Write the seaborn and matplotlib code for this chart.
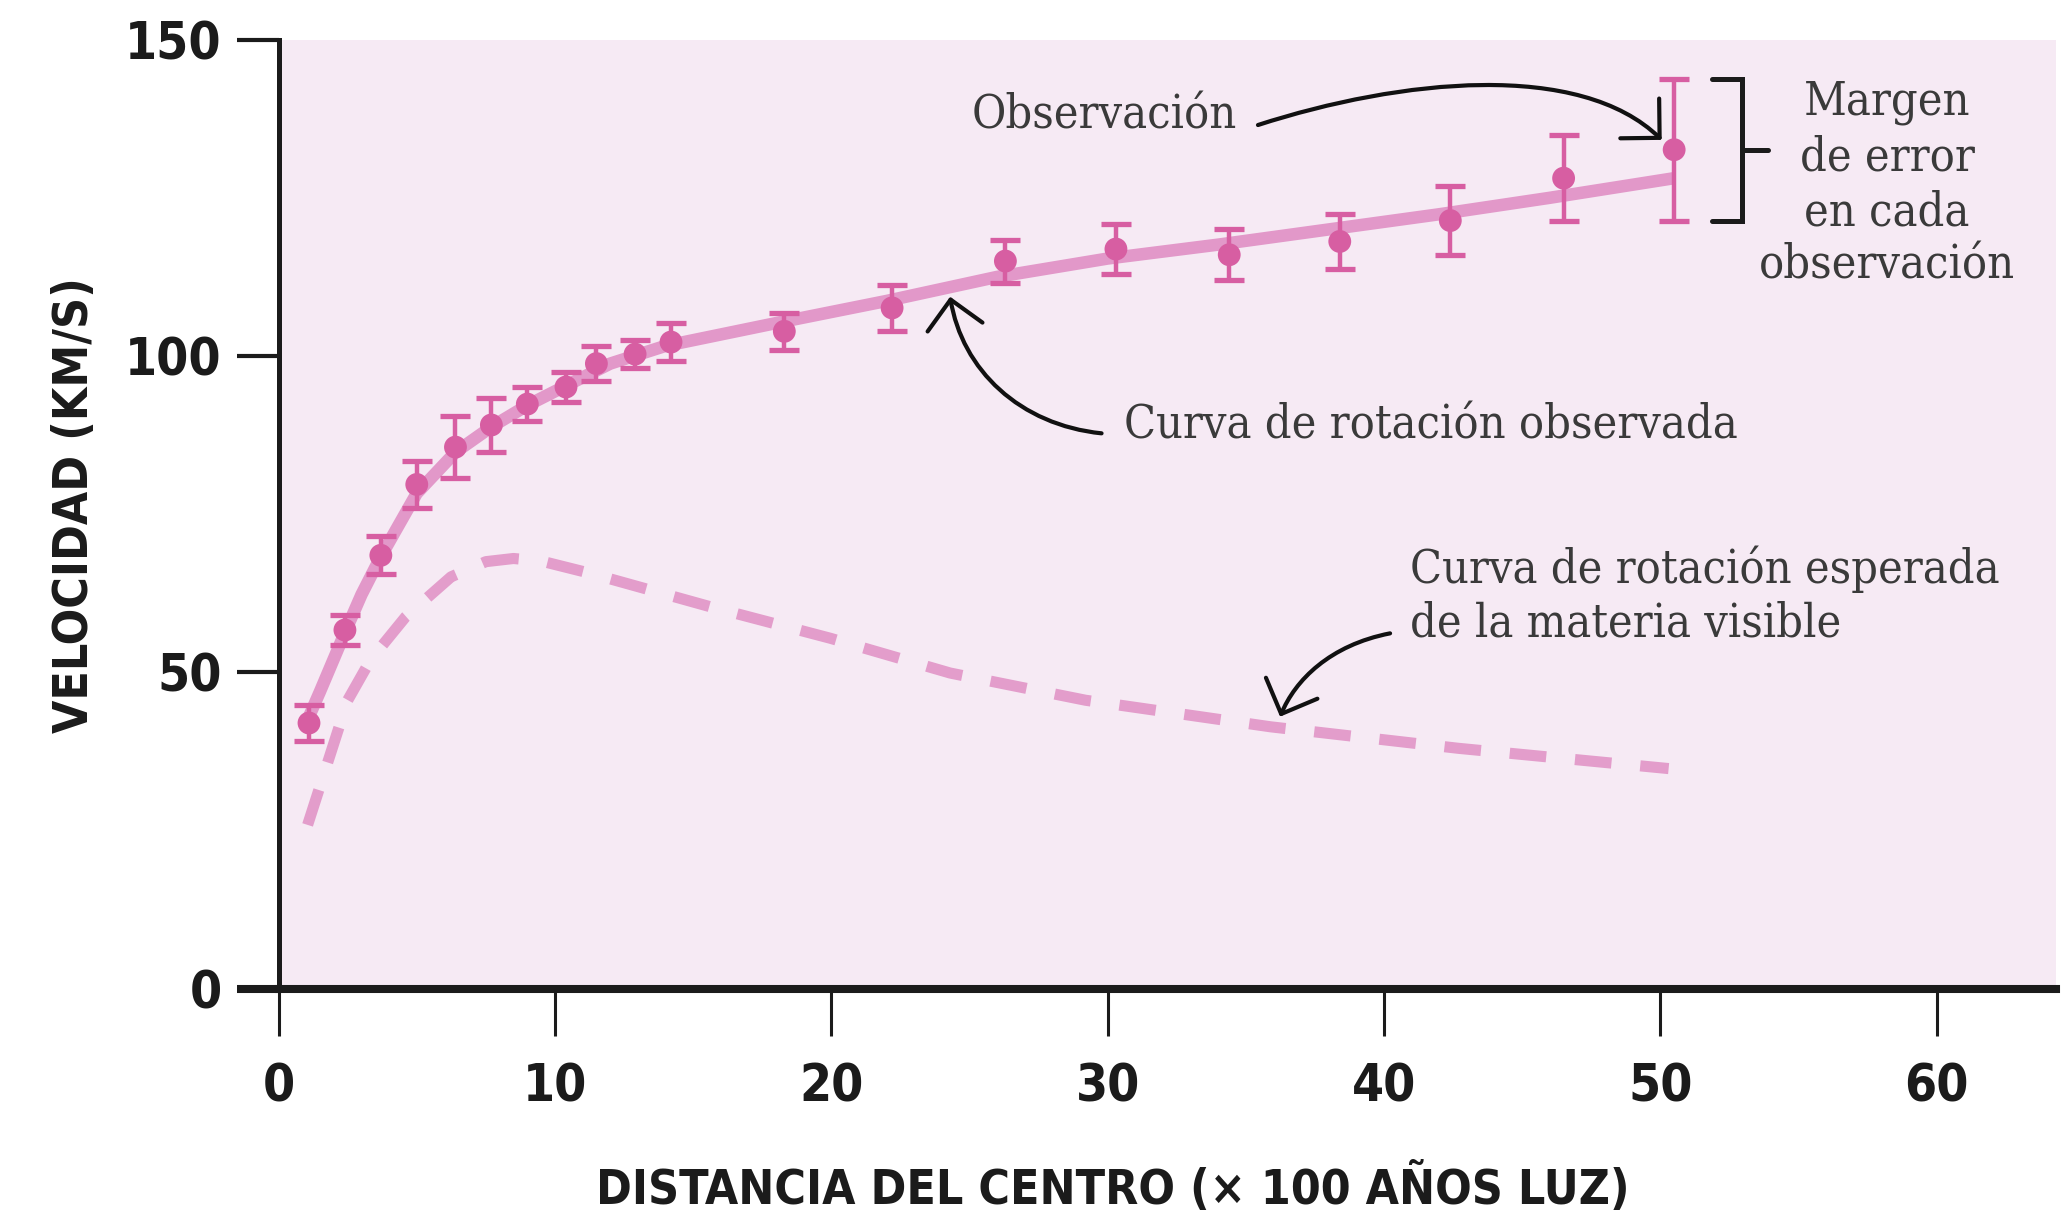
import matplotlib
matplotlib.use("Agg")
import matplotlib.pyplot as plt
import seaborn as sns
from matplotlib.patches import FancyArrowPatch, ArrowStyle
from matplotlib.path import Path

# Observed rotation velocities (distance in units of 100 light years, km/s)
obs_dist = [1.1, 2.4, 3.7, 5.0, 6.4, 7.7, 9.0, 10.4, 11.5, 12.9, 14.2,
            18.3, 22.2, 26.3, 30.3, 34.4, 38.4, 42.4, 46.5, 50.5]
obs_vel = [42.0, 56.7, 68.5, 79.7, 85.6, 89.1, 92.4, 95.1, 98.8, 100.3, 102.2,
           103.9, 107.6, 115.0, 116.9, 116.0, 118.1, 121.4, 128.1, 132.6]
obs_err = [2.8, 2.3, 3.0, 3.7, 4.9, 4.2, 2.7, 2.3, 2.8, 2.2, 3.0,
           2.9, 3.6, 3.4, 3.9, 4.0, 4.4, 5.5, 6.8, 11.2]

# Fitted (observed) rotation curve
fit_dist = [1.0, 1.5, 2.4, 3.0, 3.7, 5.0, 6.4, 7.7, 9.0, 10.4, 12.0, 14.0,
            18.0, 22.0, 26.0, 30.0, 34.0, 38.0, 42.0, 46.0, 50.5]
fit_vel = [42.0, 47.0, 56.3, 62.3, 68.3, 78.3, 84.8, 88.8, 92.2, 95.3, 98.8, 101.6,
           105.2, 108.7, 112.5, 115.4, 117.6, 120.0, 122.4, 125.0, 128.1]

# Expected rotation curve from visible matter
exp_dist = [1.05, 1.55, 2.5, 3.33, 4.6, 6.24, 7.5, 8.5, 9.5, 11.24,
            15.6, 19.96, 24.3, 29.2, 35.9, 42.7, 50.3]
exp_vel = [25.9, 32.7, 45.6, 52.0, 58.8, 65.1, 67.5, 68.0, 67.6, 65.7,
           60.4, 55.4, 49.9, 45.6, 41.4, 38.0, 34.8]

x_ticks = [0, 10, 20, 30, 40, 50, 60]
y_ticks = [0, 50, 100, 150]

BG = "#f6eaf4"
POINT = "#d75ea2"
FIT = "#e298c9"
EXPECTED = "#e39dcb"
INK = "#1b1b1b"
NOTE = "#3a3a3a"

sns.set_theme(style="ticks")
plt.rcParams["font.family"] = ["DejaVu Sans"]

fig = plt.figure(figsize=(20.7, 12.12), dpi=100)
ax = fig.add_axes([0.13459, 0.18416, 0.85841, 0.78317])
ax.set_facecolor(BG)

sns.lineplot(x=fit_dist, y=fit_vel, ax=ax, color=FIT, linewidth=9,
             solid_capstyle="butt", zorder=2)
sns.lineplot(x=exp_dist, y=exp_vel, ax=ax, color=EXPECTED, linewidth=8,
             linestyle=(0, (3.3, 2.6)), zorder=2)
ax.errorbar(obs_dist, obs_vel, yerr=obs_err, fmt="none", ecolor=POINT,
            elinewidth=3.2, capsize=10.5, capthick=3.8, zorder=3)
sns.scatterplot(x=obs_dist, y=obs_vel, ax=ax, color=POINT, s=270,
                edgecolor="none", linewidth=0, zorder=4)

ax.set_xlim(0, 64.3)
ax.set_ylim(0, 150)
ax.set_xticks(x_ticks)
ax.set_yticks(y_ticks)

for side in ("top", "right"):
    ax.spines[side].set_visible(False)
ax.spines["left"].set_linewidth(3.6)
ax.spines["left"].set_color(INK)
ax.spines["bottom"].set_linewidth(5.8)
ax.spines["bottom"].set_color(INK)

tick_font = dict(family=["DejaVu Sans"], stretch="condensed",
                 weight="bold", size=37)
label_font = dict(family=["DejaVu Sans"], stretch="condensed",
                  weight="bold", size=34.5)
ax.tick_params(axis="y", length=30, width=3, color=INK, pad=11)
ax.tick_params(axis="x", length=34, width=2.2, color=INK, pad=19)
ax.set_xticklabels([str(t) for t in x_ticks], color=INK, **tick_font)
ax.set_yticklabels([str(t) for t in y_ticks], color=INK, **tick_font)
ax.yaxis.get_major_ticks()[0].tick1line.set_markeredgewidth(5.8)

ax.set_xlabel("DISTANCIA DEL CENTRO (× 100 AÑOS LUZ)", color=INK, **label_font)
ax.xaxis.label.set_va("baseline")
ax.xaxis.set_label_coords(0.4696, -0.2267)
ax.set_ylabel("VELOCIDAD (KM/S)", color=INK, **label_font)
ax.yaxis.label.set_va("baseline")
ax.yaxis.set_label_coords(-0.107, 0.51)

note_font = dict(family=["DejaVu Serif"], fontstretch="condensed",
                 fontsize=33.5, color=NOTE)

ax.text(34.68, 136.0, "Observación", ha="right", va="baseline", **note_font)
ax.text(30.6, 86.9, "Curva de rotación observada", ha="left", va="baseline",
        **note_font)
ax.text(40.95, 64.1, "Curva de rotación esperada", ha="left", va="baseline",
        **note_font)
ax.text(40.95, 55.7, "de la materia visible", ha="left", va="baseline",
        **note_font)
for line, base in zip(["Margen", "de error", "en cada", "observación"],
                      [138.1, 129.3, 120.7, 112.3]):
    ax.text(58.2, base, line, ha="center", va="baseline", **note_font)

# Bracket spanning the error bar of the last observation
top = obs_vel[-1] + obs_err[-1]
bottom = obs_vel[-1] - obs_err[-1]
ax.plot([51.86, 52.94, 52.94, 51.86], [top, top, bottom, bottom],
        color=INK, linewidth=3.6, solid_joinstyle="miter", clip_on=False, zorder=5)
ax.plot([52.94, 53.91], [obs_vel[-1], obs_vel[-1]], color=INK, linewidth=3.6,
        clip_on=False, zorder=5)

# Curved callout arrows
head = ArrowStyle("->", head_length=1.0, head_width=1.0)
curves = [
    [(35.44, 136.5), (40.58, 143.75), (47.09, 146.78), (50.05, 134.15)],
    [(29.78, 87.78), (26.83, 89.10), (24.73, 97.78), (24.30, 109.37)],
    [(40.22, 56.17), (38.05, 54.32), (36.78, 48.79), (36.24, 43.0)],
]
codes = [Path.MOVETO, Path.CURVE4, Path.CURVE4, Path.CURVE4]
for verts in curves:
    arrow = FancyArrowPatch(path=Path(verts, codes), arrowstyle=head,
                            mutation_scale=20, linewidth=3, color="#111111",
                            zorder=6)
    ax.add_patch(arrow)

fig.savefig("out.png", dpi=100, facecolor="white")
